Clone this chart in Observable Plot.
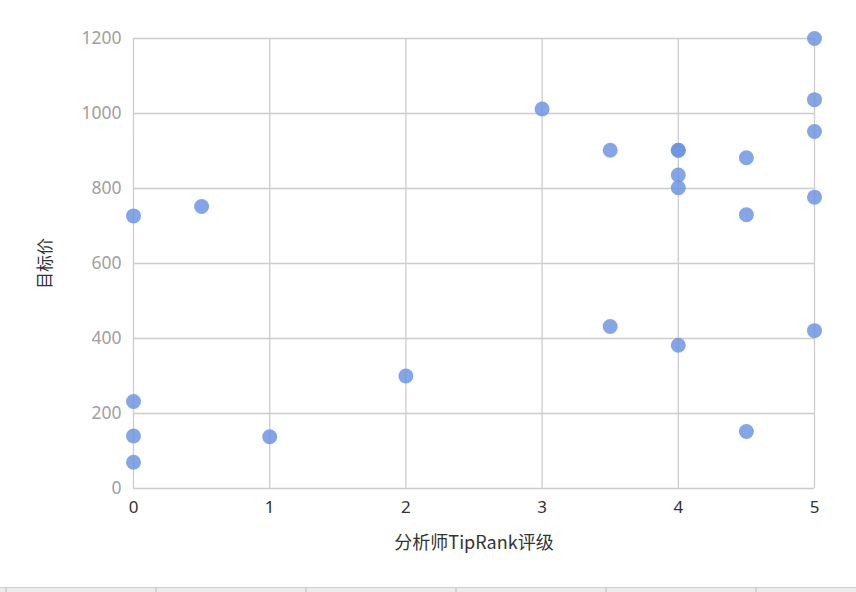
<!DOCTYPE html>
<html>
<head>
<meta charset="utf-8">
<script src="https://cdn.jsdelivr.net/npm/d3@7"></script>
<script src="https://cdn.jsdelivr.net/npm/@observablehq/plot@0.6"></script>
<style>
  html, body { margin: 0; padding: 0; background: #fff; }
  body { width: 856px; height: 592px; overflow: hidden; position: relative; }
  #chart svg { display: block; }
  #footer {
    position: absolute; left: 0; top: 587px; width: 856px; height: 5px;
    border-top: 1.5px solid #cfcfcf;
    background:
      repeating-linear-gradient(to right, transparent 0, transparent 5px, #d4d4d4 5px, #d4d4d4 7px, transparent 7px, transparent 150px),
      #ececec;
  }
</style>
</head>
<body>
<div id="chart"></div>
<div id="footer"></div>
<script>
// Analyst TipRank rating (x) vs target price (y)
const ratings = [0, 0.5, 0, 0, 0, 1, 2, 3, 3.5, 3.5, 4, 4, 4, 4, 4, 4.5, 4.5, 4.5, 5, 5, 5, 5, 5];
const targets = [727, 752, 232, 140, 70, 138, 300, 1012, 902, 432, 902, 902, 836, 802, 382, 882, 730, 152, 1200, 1037, 952, 777, 421];
const xTicks = [0, 1, 2, 3, 4, 5];
const yTicks = [0, 200, 400, 600, 800, 1000, 1200];
const xLabel = "分析师TipRank评级";
const yLabel = "目标价";

const data = ratings.map((r, i) => ({rating: r, target: targets[i]}));
const font = "'Noto Sans', 'Noto Sans CJK SC', sans-serif";

const chart = Plot.plot({
  width: 856,
  height: 560,
  marginLeft: 133,
  marginRight: 42,
  marginTop: 38,
  marginBottom: 72,
  style: { fontFamily: font, fontSize: "17px", background: "#fff" },
  x: { domain: [0, 5], ticks: xTicks, label: null },
  y: { domain: [0, 1200], ticks: yTicks, label: null },
  marks: [
    Plot.gridX(xTicks, { stroke: "#cccccc", strokeOpacity: 1, strokeWidth: 1.3 }),
    Plot.gridY(yTicks, { stroke: "#cccccc", strokeOpacity: 1, strokeWidth: 1.3 }),
    Plot.axisX(xTicks, { tickSize: 0, tickPadding: 12, fill: "#333", fontSize: 17, tickFormat: d => String(d), label: null }),
    Plot.axisY(yTicks, { tickSize: 0, tickPadding: 12, fill: "#a0a0a0", fontSize: 17.5, tickFormat: d => String(d), label: null }),
    Plot.dot(data, { x: "rating", y: "target", r: 7.5, fill: "#6a93e0", fillOpacity: 0.82, stroke: "none" }),
    Plot.text([xLabel], { frameAnchor: "bottom", dy: 60, fill: "#333", fontSize: 18, fontFamily: "'Noto Sans CJK SC', sans-serif" }),
    Plot.text([yLabel], { frameAnchor: "left", textAnchor: "middle", dx: -88, rotate: -90, fill: "#333", fontSize: 17, fontFamily: "'Noto Sans CJK SC', sans-serif" })
  ]
});
document.getElementById("chart").appendChild(chart);
</script>
</body>
</html>
